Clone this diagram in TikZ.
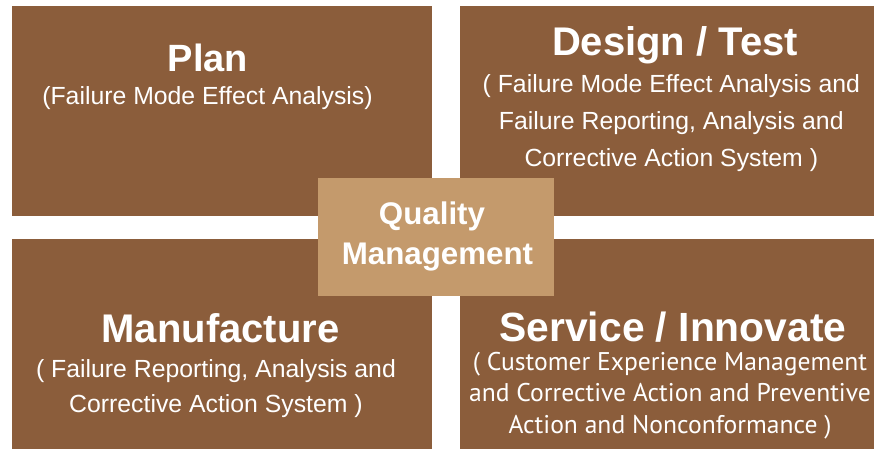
\documentclass[tikz,border=0pt]{standalone}
\usepackage{fontspec}
\newfontfamily\arialf{Liberation Sans}
\newfontfamily\humanf{PT Sans}
\definecolor{brownbox}{HTML}{8B5D3B}
\definecolor{tanbox}{HTML}{C49A6C}
\tikzset{
  quad/.style={fill=brownbox, draw=none},
  centerbox/.style={fill=tanbox, draw=none},
  ttl/.style={anchor=base, text=white, inner sep=0pt, font=\arialf\bfseries\fontsize{#1}{#1}\selectfont},
  sub/.style={anchor=base, text=white, inner sep=0pt, font=\arialf\fontsize{24.8}{24.8}\selectfont},
  subh/.style={anchor=base, text=white, inner sep=0pt, font=\humanf\fontsize{#1}{#1}\selectfont},
}
\begin{document}
\begin{tikzpicture}[x=1pt,y=-1pt]
\useasboundingbox (0,0) rectangle (874,449);
\fill[white] (0,0) rectangle (874,449);
\path[quad] (12,6) rectangle (432,216);
\path[quad] (460,6) rectangle (874,216);
\path[quad] (12,239) rectangle (432,449);
\path[quad] (460,239) rectangle (874,449);
\node[centerbox, minimum width=236pt, minimum height=118pt, inner sep=0pt] (qm) at (436,237) {};
% Plan
\node[ttl=38] (plan) at (208,71.7) {Plan};
\node[sub] (plan1) at (207.5,105) {(Failure Mode Effect Analysis)};
% Design / Test
\node[ttl=40] (design) at (675,55.7) {Design / Test};
\node[sub] (design1) at (671.3,92.7) {( Failure Mode Effect Analysis and};
\node[sub] (design2) at (671.3,130) {Failure Reporting, Analysis and};
\node[sub] (design3) at (671.3,166.7) {Corrective Action System )};
% Manufacture
\node[ttl=40] (manu) at (220.5,342.3) {Manufacture};
\node[sub] (manu1) at (216,377.3) {( Failure Reporting, Analysis and};
\node[sub] (manu2) at (216,412.7) {Corrective Action System )};
% Service / Innovate
\node[ttl=40.8] (serv) at (673,341.7) {Service / Innovate};
\node[subh=25.6] (serv1) at (670,370) {( Customer Experience Management};
\node[subh=25.6] (serv2) at (670,401.7) {and Corrective Action and Preventive};
\node[subh=25.6] (serv3) at (670,433.3) {Action and Nonconformance )};
% Quality Management
\node[ttl=31.3] (qm1) at (432,224.3) {Quality};
\node[ttl=31.3] (qm2) at (437.5,264.3) {Management};
\end{tikzpicture}
\end{document}
